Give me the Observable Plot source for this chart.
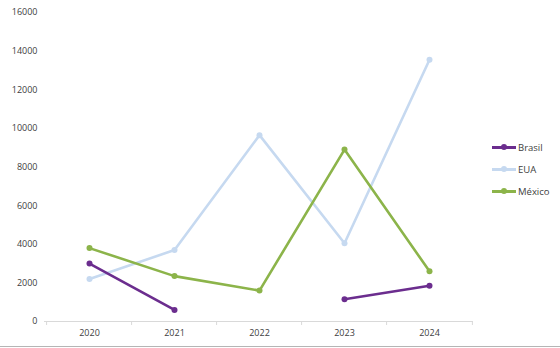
<!DOCTYPE html>
<html>
<head>
<meta charset="utf-8">
<script src="https://cdn.jsdelivr.net/npm/d3@7"></script>
<script src="https://cdn.jsdelivr.net/npm/@observablehq/plot@0.6"></script>
<style>
  html, body { margin: 0; padding: 0; background: #fff; }
  #wrap { position: relative; width: 560px; height: 348px; overflow: hidden; }
  #wrap svg { display: block; }
  #border { position: absolute; left: 0; top: 346px; width: 560px; height: 1px; background: #b5b5b5; }
  #legend { position: absolute; left: 492px; top: 136px; font-family: "Open Sans", sans-serif; font-size: 9.5px; color: #404040; }
  #legend .item { display: flex; align-items: center; height: 22px; }
  #legend .sw { position: relative; width: 24px; height: 10px; margin-right: 2px; }
  #legend .sw .ln { position: absolute; left: 0; right: 0; top: 4px; height: 2.5px; }
  #legend .sw .dt { position: absolute; left: 9px; top: 2px; width: 6px; height: 6px; border-radius: 50%; }
</style>
</head>
<body>
<div id="wrap"></div>
<script>
const years = ["2020", "2021", "2022", "2023", "2024"];
const seriesNames = ["Brasil", "EUA", "México"];
const seriesColors = ["#6b2d8e", "#c6d9f0", "#8cb44a"];
const brasil = [3000, 600, null, 1150, 1850];
const eua = [2200, 3700, 9650, 4050, 13550];
const mexico = [3800, 2350, 1600, 8900, 2600];
const yTicks = [0, 2000, 4000, 6000, 8000, 10000, 12000, 14000, 16000];

const seriesValues = [brasil, eua, mexico];
const rows = [];
seriesNames.forEach((name, si) => {
  years.forEach((yr, i) => {
    rows.push({ series: name, year: yr, value: seriesValues[si][i] });
  });
});
const order = ["EUA", "México", "Brasil"];

const marginLeft = 44, marginRight = 87, width = 560;
const step = (width - marginLeft - marginRight) / years.length;
const boundaries = years.map((y, i) => ({ year: y, dx: -step / 2 }))
  .concat([{ year: years[years.length - 1], dx: step / 2 }]);

const marks = [
  Plot.ruleY([0], { stroke: "#d9d9d9", strokeWidth: 1 }),
  ...boundaries.map(b => Plot.ruleX([b.year], { y1: 0, y2: 0, insetBottom: -4, dx: b.dx, stroke: "#d9d9d9" }))
];
order.forEach(name => {
  const data = rows.filter(r => r.series === name);
  const c = seriesColors[seriesNames.indexOf(name)];
  marks.push(Plot.line(data, { x: "year", y: "value", stroke: c, strokeWidth: 2.6 }));
  marks.push(Plot.dot(data.filter(d => d.value != null), { x: "year", y: "value", fill: c, r: 3 }));
});

const chart = Plot.plot({
  width: width,
  height: 346,
  marginLeft: marginLeft,
  marginRight: marginRight,
  marginTop: 12,
  marginBottom: 25,
  style: { fontFamily: "'Open Sans', sans-serif", fontSize: "9px", color: "#404040", background: "#fff" },
  x: { type: "point", domain: years, padding: 0.5, label: null, tickSize: 0, tickPadding: 8 },
  y: { domain: [0, 16000], ticks: yTicks, tickFormat: d => String(d), label: null, tickSize: 0, tickPadding: 7 },
  marks: marks
});

const wrap = document.getElementById("wrap");
wrap.appendChild(chart);
const border = document.createElement("div");
border.id = "border";
wrap.appendChild(border);

const legend = document.createElement("div");
legend.id = "legend";
seriesNames.forEach((name, i) => {
  const item = document.createElement("div");
  item.className = "item";
  item.innerHTML = `<div class="sw"><div class="ln" style="background:${seriesColors[i]}"></div><div class="dt" style="background:${seriesColors[i]}"></div></div><span>${name}</span>`;
  legend.appendChild(item);
});
wrap.appendChild(legend);
</script>
</body>
</html>
